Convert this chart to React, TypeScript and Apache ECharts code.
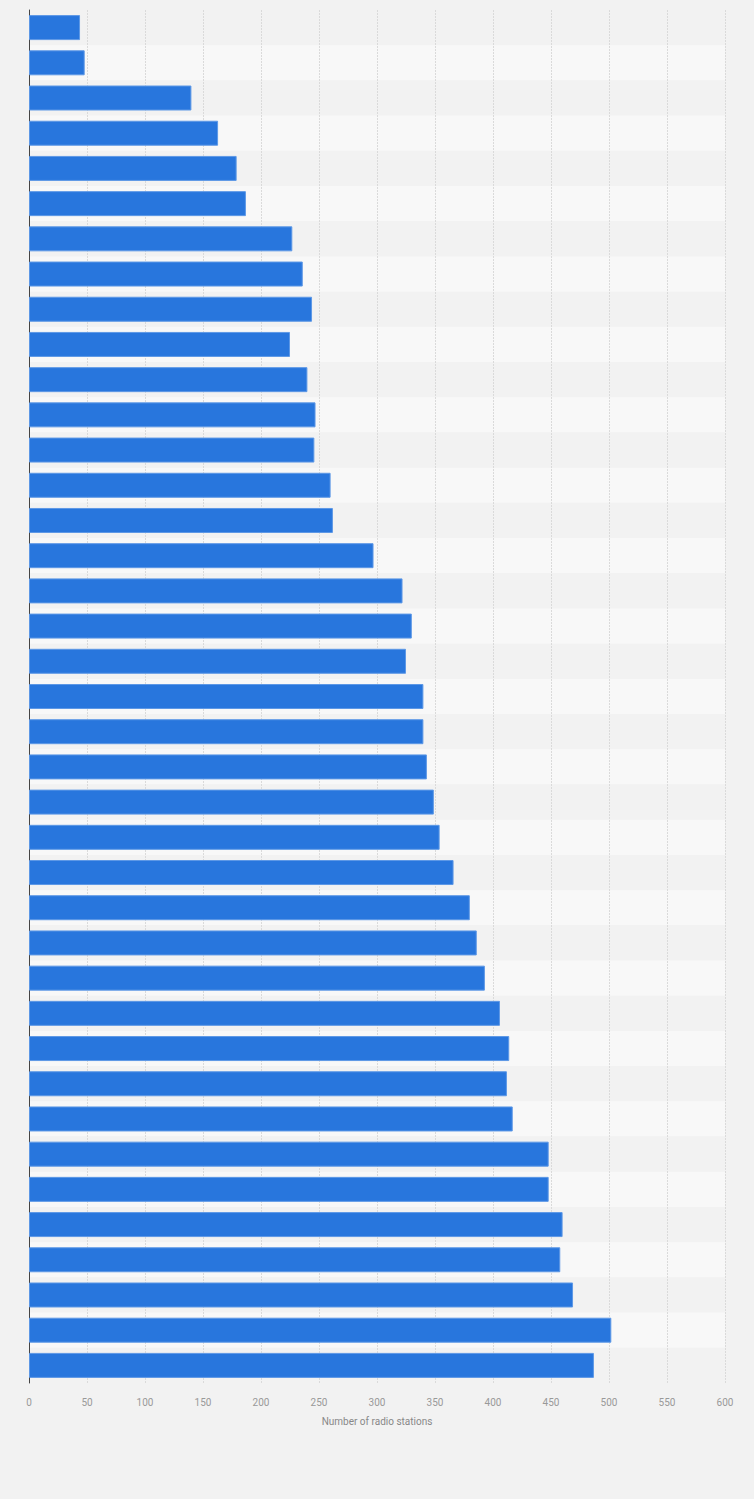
import { useEffect, useRef } from "react";
import * as echarts from "echarts";

// rows, top to bottom (labels are not shown in the chart)
const categories = [
  "1", "2", "3", "4", "5", "6", "7", "8", "9", "10",
  "11", "12", "13", "14", "15", "16", "17", "18", "19", "20",
  "21", "22", "23", "24", "25", "26", "27", "28", "29", "30",
  "31", "32", "33", "34", "35", "36", "37", "38", "39",
];

const stations = [
  44, 48, 140, 163, 179, 187, 227, 236, 244, 225,
  240, 247, 246, 260, 262, 297, 322, 330, 325, 340,
  340, 343, 349, 354, 366, 380, 386, 393, 406, 414,
  412, 417, 448, 448, 460, 458, 469, 502, 487,
];

const xMin = 0;
const xMax = 600;
const xStep = 50;
const xTitle = "Number of radio stations";

export default function App() {
  const chartRef = useRef<HTMLDivElement>(null);

  useEffect(() => {
    document.body.style.margin = "0";
    if (!chartRef.current) return;
    const chart = echarts.init(chartRef.current, undefined, { renderer: "svg" });

    chart.setOption({
      animation: false,
      backgroundColor: "#f2f2f2",
      textStyle: { fontFamily: "Roboto" },
      grid: { left: 29, right: 29, top: 10, bottom: 116 },
      xAxis: {
        type: "value",
        min: xMin,
        max: xMax,
        interval: xStep,
        name: xTitle,
        nameLocation: "middle",
        nameGap: 33,
        nameTextStyle: { color: "#888", fontSize: 10 },
        axisLine: { show: false },
        axisTick: { show: false },
        axisLabel: { color: "#999", fontSize: 10, margin: 14 },
        splitLine: {
          show: true,
          lineStyle: { color: "#dadada", type: [2, 1], width: 1 },
        },
      },
      yAxis: {
        type: "category",
        inverse: true,
        data: categories,
        axisLine: { show: true, lineStyle: { color: "#444", width: 1 } },
        axisTick: { show: false },
        axisLabel: { show: false },
        splitArea: {
          show: true,
          areaStyle: { color: ["#f2f2f2", "#f8f8f8"] },
        },
      },
      series: [
        {
          type: "bar",
          data: stations,
          barCategoryGap: "29%",
          itemStyle: {
            color: "#2876dd",
            borderColor: "#5d98e6",
            borderWidth: 1,
          },
          emphasis: { disabled: true },
        },
      ],
    });

    return () => chart.dispose();
  }, []);

  return (
    <div
      ref={chartRef}
      style={{ width: 754, height: 1499, background: "#f2f2f2" }}
    />
  );
}
